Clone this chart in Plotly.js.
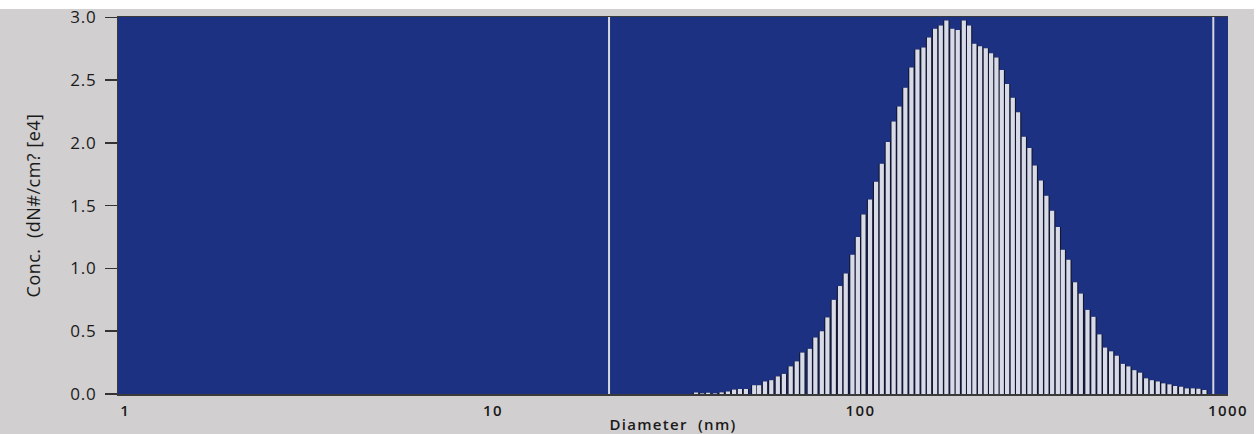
<!DOCTYPE html>
<html>
<head>
<meta charset="utf-8">
<script src="https://cdn.plot.ly/plotly-3.0.1.min.js"></script>
<style>
  html, body { margin: 0; padding: 0; background: #ffffff; }
  #chart { position: absolute; left: 0; top: 9px; width: 1254px; height: 425px; }
  #chart .xtick text { letter-spacing: 1.4px; }
  #chart .ytick text { letter-spacing: 0.8px; }
  #chart .xtitle { letter-spacing: 1.3px; }
  #chart .ytitle { letter-spacing: 0.5px; }
  #chart svg { overflow: visible; }
</style>
</head>
<body>
<div id="chart"></div>
<script>
// Particle size bins (nm) and concentrations (e4 dN#/cm?)
const diameters = [
  35.7, 37.1, 38.5, 40.2, 41.9, 43.6, 45.3, 47.0, 48.8, 51.4,
  53.0, 55.0, 57.2, 59.6, 61.9, 64.6, 67.1, 69.5, 72.8, 75.4,
  78.5, 81.3, 84.6, 88.0, 91.2, 95.1, 98.4, 101.9, 106.2, 110.3,
  114.3, 118.7, 123.1, 127.6, 132.5, 137.6, 142.9, 148.4, 153.7, 159.6,
  165.4, 171.3, 177.9, 184.0, 191.1, 197.5, 204.2, 211.6, 219.3, 226.7,
  234.4, 242.4, 250.6, 259.7, 268.5, 278.3, 288.2, 298.1, 309.6, 320.6,
  332.3, 344.4, 355.3, 368.0, 383.8, 397.7, 414.6, 430.4, 446.9, 463.1,
  480.8, 498.3, 517.5, 535.9, 556.4, 576.6, 598.8, 620.5, 644.2, 667.2,
  692.9, 718.1, 745.6, 772.7, 802.2, 830.8, 862.6
];
const concentrations = [
  0.012, 0.005, 0.010, 0.005, 0.013, 0.02, 0.035, 0.04, 0.04, 0.07,
  0.07, 0.10, 0.11, 0.14, 0.16, 0.22, 0.26, 0.33, 0.36, 0.45,
  0.50, 0.61, 0.75, 0.86, 0.96, 1.11, 1.25, 1.43, 1.55, 1.69,
  1.835, 2.007, 2.17, 2.29, 2.44, 2.60, 2.745, 2.76, 2.84, 2.91,
  2.935, 2.975, 2.91, 2.90, 2.975, 2.935, 2.79, 2.77, 2.755, 2.715,
  2.68, 2.58, 2.47, 2.36, 2.245, 2.05, 1.96, 1.82, 1.70, 1.58,
  1.46, 1.33, 1.15, 1.07, 0.89, 0.80, 0.67, 0.615, 0.475, 0.37,
  0.34, 0.305, 0.24, 0.22, 0.19, 0.17, 0.125, 0.11, 0.10, 0.085,
  0.077, 0.064, 0.058, 0.045, 0.045, 0.042, 0.032
];
const xTickVals = [1, 10, 100, 1000];
const xTickLabels = ['1', '10', '100', '1000'];
const markerLines = [20.7, 912];
const xTitle = 'Diameter\u00a0\u00a0(nm)';
const yTitle = 'Conc.\u00a0\u00a0(dN#/cm?\u00a0[e4]';

// Build vertical bar segments from the data
const segX = [], segY = [];
for (let i = 0; i < diameters.length; i++) {
  segX.push(diameters[i], diameters[i], null);
  segY.push(0, concentrations[i], null);
}

const traces = [
  { type: 'scatter', mode: 'lines', x: segX, y: segY, connectgaps: false,
    line: { color: '#12172f', width: 6.4 }, hoverinfo: 'skip', showlegend: false },
  { type: 'scatter', mode: 'lines', x: segX, y: segY, connectgaps: false,
    line: { color: '#d8dbe7', width: 4.2 }, hoverinfo: 'skip', showlegend: false }
];

const shapes = markerLines.map(v => ({
  type: 'line', xref: 'x', yref: 'paper', x0: v, x1: v, y0: 0, y1: 1,
  line: { color: '#d6d8e0', width: 2 }, layer: 'above'
}));

const layout = {
  width: 1254, height: 425,
  margin: { l: 118, r: 26, t: 8, b: 40 },
  paper_bgcolor: '#d1cfcf',
  plot_bgcolor: '#1c3182',
  font: { family: '"Open Sans", "Noto Sans", sans-serif', color: '#1a1a1a' },
  showlegend: false,
  shapes: shapes,
  xaxis: {
    type: 'log',
    range: [-0.02, 3.0],
    tickvals: xTickVals,
    ticktext: xTickLabels,
    ticks: '',
    showgrid: false,
    zeroline: false,
    showline: true,
    linecolor: '#3a3a3a',
    linewidth: 1.5,
    mirror: true,
    tickfont: { size: 15, weight: 600, color: '#1a1a1a' },
    ticklabelstandoff: 2,
    ticklabeloverflow: 'allow',
    title: { text: xTitle, font: { size: 15, weight: 600, color: '#1a1a1a' }, standoff: 3 }
  },
  yaxis: {
    range: [0, 3.003],
    dtick: 0.5,
    tick0: 0,
    tickformat: '.1f',
    ticks: 'outside',
    ticklen: 12,
    tickwidth: 1.5,
    tickcolor: '#333333',
    showgrid: false,
    zeroline: false,
    showline: true,
    linecolor: '#3a3a3a',
    linewidth: 1,
    tickfont: { size: 17, color: '#1a1a1a' },
    ticklabelstandoff: 5,
    ticklabeloverflow: 'allow',
    title: { text: yTitle, font: { size: 18, color: '#1a1a1a' }, standoff: 27 }
  }
};

Plotly.newPlot('chart', traces, layout, { staticPlot: true, displayModeBar: false });
</script>
</body>
</html>
